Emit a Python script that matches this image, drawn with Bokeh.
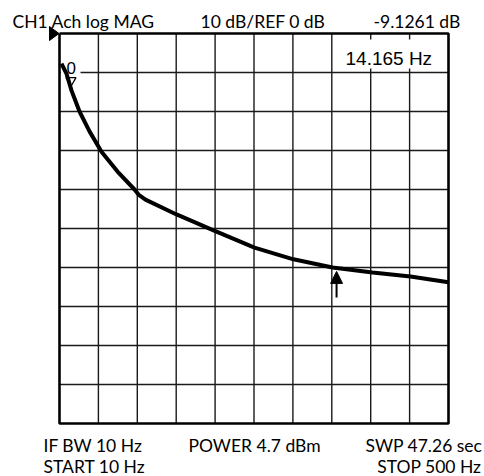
import numpy as np
from bokeh.plotting import figure
from bokeh.models import Range1d
from bokeh.core.properties import value
from bokeh.embed import file_html
from bokeh.resources import INLINE

# ---- data ----
start_hz = 10.0
stop_hz = 500.0
ref_db = 0.0
db_per_div = 10.0
n_div = 10

freq_hz = [12.5, 18.8, 25.1, 35.2, 47.8, 62.9, 83.1, 104.5, 109.5, 118.3,
           157.4, 204.0, 255.6, 304.7, 353.9, 404.3, 452.1, 500.0]
mag_db = [-7.7, -10.3, -14.6, -20.0, -25.1, -30.3, -35.4, -40.0, -41.3, -42.6,
          -46.4, -50.5, -54.9, -57.9, -60.0, -61.3, -62.3, -63.8]

marker_hz = 359.0
marker_db = -61.0

header_texts = ["CH1 Ach log MAG", "10 dB/REF 0 dB", "-9.1261 dB"]
marker_readout = "14.165 Hz"
ref_label = "0"
footer_row1 = ["IF BW 10 Hz", "POWER 4.7 dBm", "SWP 47.26 sec"]
footer_row2 = ["START 10 Hz", "STOP 500 Hz"]

# ---- layout (picture pixels) ----
W, H = 484, 476
box_l, box_r, box_t, box_b = 59.0, 448.0, 33.0, 423.0
hz_per_px = (stop_hz - start_hz) / (box_r - box_l)
bottom_db = ref_db - n_div * db_per_div
db_per_px = (ref_db - bottom_db) / (box_b - box_t)


def X(px):
    return start_hz + (px - box_l) * hz_per_px


def Y(py):
    return ref_db - (py - box_t) * db_per_px


p = figure(width=W, height=H, output_backend="svg", toolbar_location=None,
           x_axis_type=None, y_axis_type=None, min_border=0,
           x_range=Range1d(X(0), X(W)), y_range=Range1d(Y(H), Y(0)))
p.outline_line_color = None
p.background_fill_color = "white"
p.border_fill_color = "white"

# grid
gx = np.linspace(start_hz, stop_hz, n_div + 1)
gy = np.linspace(ref_db, bottom_db, n_div + 1)
p.segment(x0=gx[1:-1], y0=[ref_db] * (n_div - 1), x1=gx[1:-1], y1=[bottom_db] * (n_div - 1),
          line_color="#1a1a1a", line_width=1.4)
p.segment(x0=[start_hz] * (n_div - 1), y0=gy[1:-1], x1=[stop_hz] * (n_div - 1), y1=gy[1:-1],
          line_color="#1a1a1a", line_width=1.4)

# white label backgrounds
p.quad(left=[X(340), X(60.5)], right=[X(445), X(80)], top=[Y(39), Y(50)], bottom=[Y(68), Y(76)],
       fill_color="white", line_color=None)

# reference label and marker
p.text(x=[X(66)], y=[Y(67)], text=[ref_label], text_font=value("Liberation Sans"),
       text_font_size="17px", text_color="black", text_baseline="alphabetic")
p.scatter(x=[X(70.5)], y=[Y(80)], marker="inverted_triangle", size=10,
          fill_color=None, line_color="black", line_width=1.3)

# marker readout
p.text(x=[X(345)], y=[Y(58)], text=[marker_readout], text_font=value("Liberation Sans"),
       text_font_size="19px", text_color="black", text_baseline="alphabetic")

# trace
p.line(freq_hz, mag_db, line_color="black", line_width=4, line_join="round")

# border
p.line([start_hz, stop_hz, stop_hz, start_hz, start_hz],
       [ref_db, ref_db, bottom_db, bottom_db, ref_db], line_color="black", line_width=2.6)

# reference level triangle
p.patch([X(49), X(49), X(58.5)], [Y(26), Y(40), Y(box_t)], fill_color="black", line_color="black")

# marker arrow
hw = 6 * hz_per_px
p.patch([marker_hz - hw, marker_hz + hw, marker_hz],
        [marker_db - 12 * db_per_px, marker_db - 12 * db_per_px, marker_db],
        fill_color="black", line_color="black")
p.segment(x0=[marker_hz], y0=[marker_db - 10 * db_per_px], x1=[marker_hz], y1=[marker_db - 26 * db_per_px],
          line_color="black", line_width=2)

# header / footer annotations
f = value("Lato")
fs = "17.5px"
p.text(x=[X(12), X(200), X(373)], y=[Y(21)] * 3, text=header_texts, text_font=f,
       text_font_size=fs, text_color="black", text_baseline="alphabetic")
p.text(x=[X(43), X(188), X(365)], y=[Y(445)] * 3, text=footer_row1, text_font=f,
       text_font_size=fs, text_color="black", text_baseline="alphabetic")
p.text(x=[X(43)], y=[Y(466)], text=[footer_row2[0]], text_font=f,
       text_font_size=fs, text_color="black", text_baseline="alphabetic")
p.text(x=[X(481)], y=[Y(466)], text=[footer_row2[1]], text_font=f,
       text_font_size=fs, text_color="black", text_baseline="alphabetic", text_align="right")

open("out.html", "w").write(file_html(p, INLINE))
